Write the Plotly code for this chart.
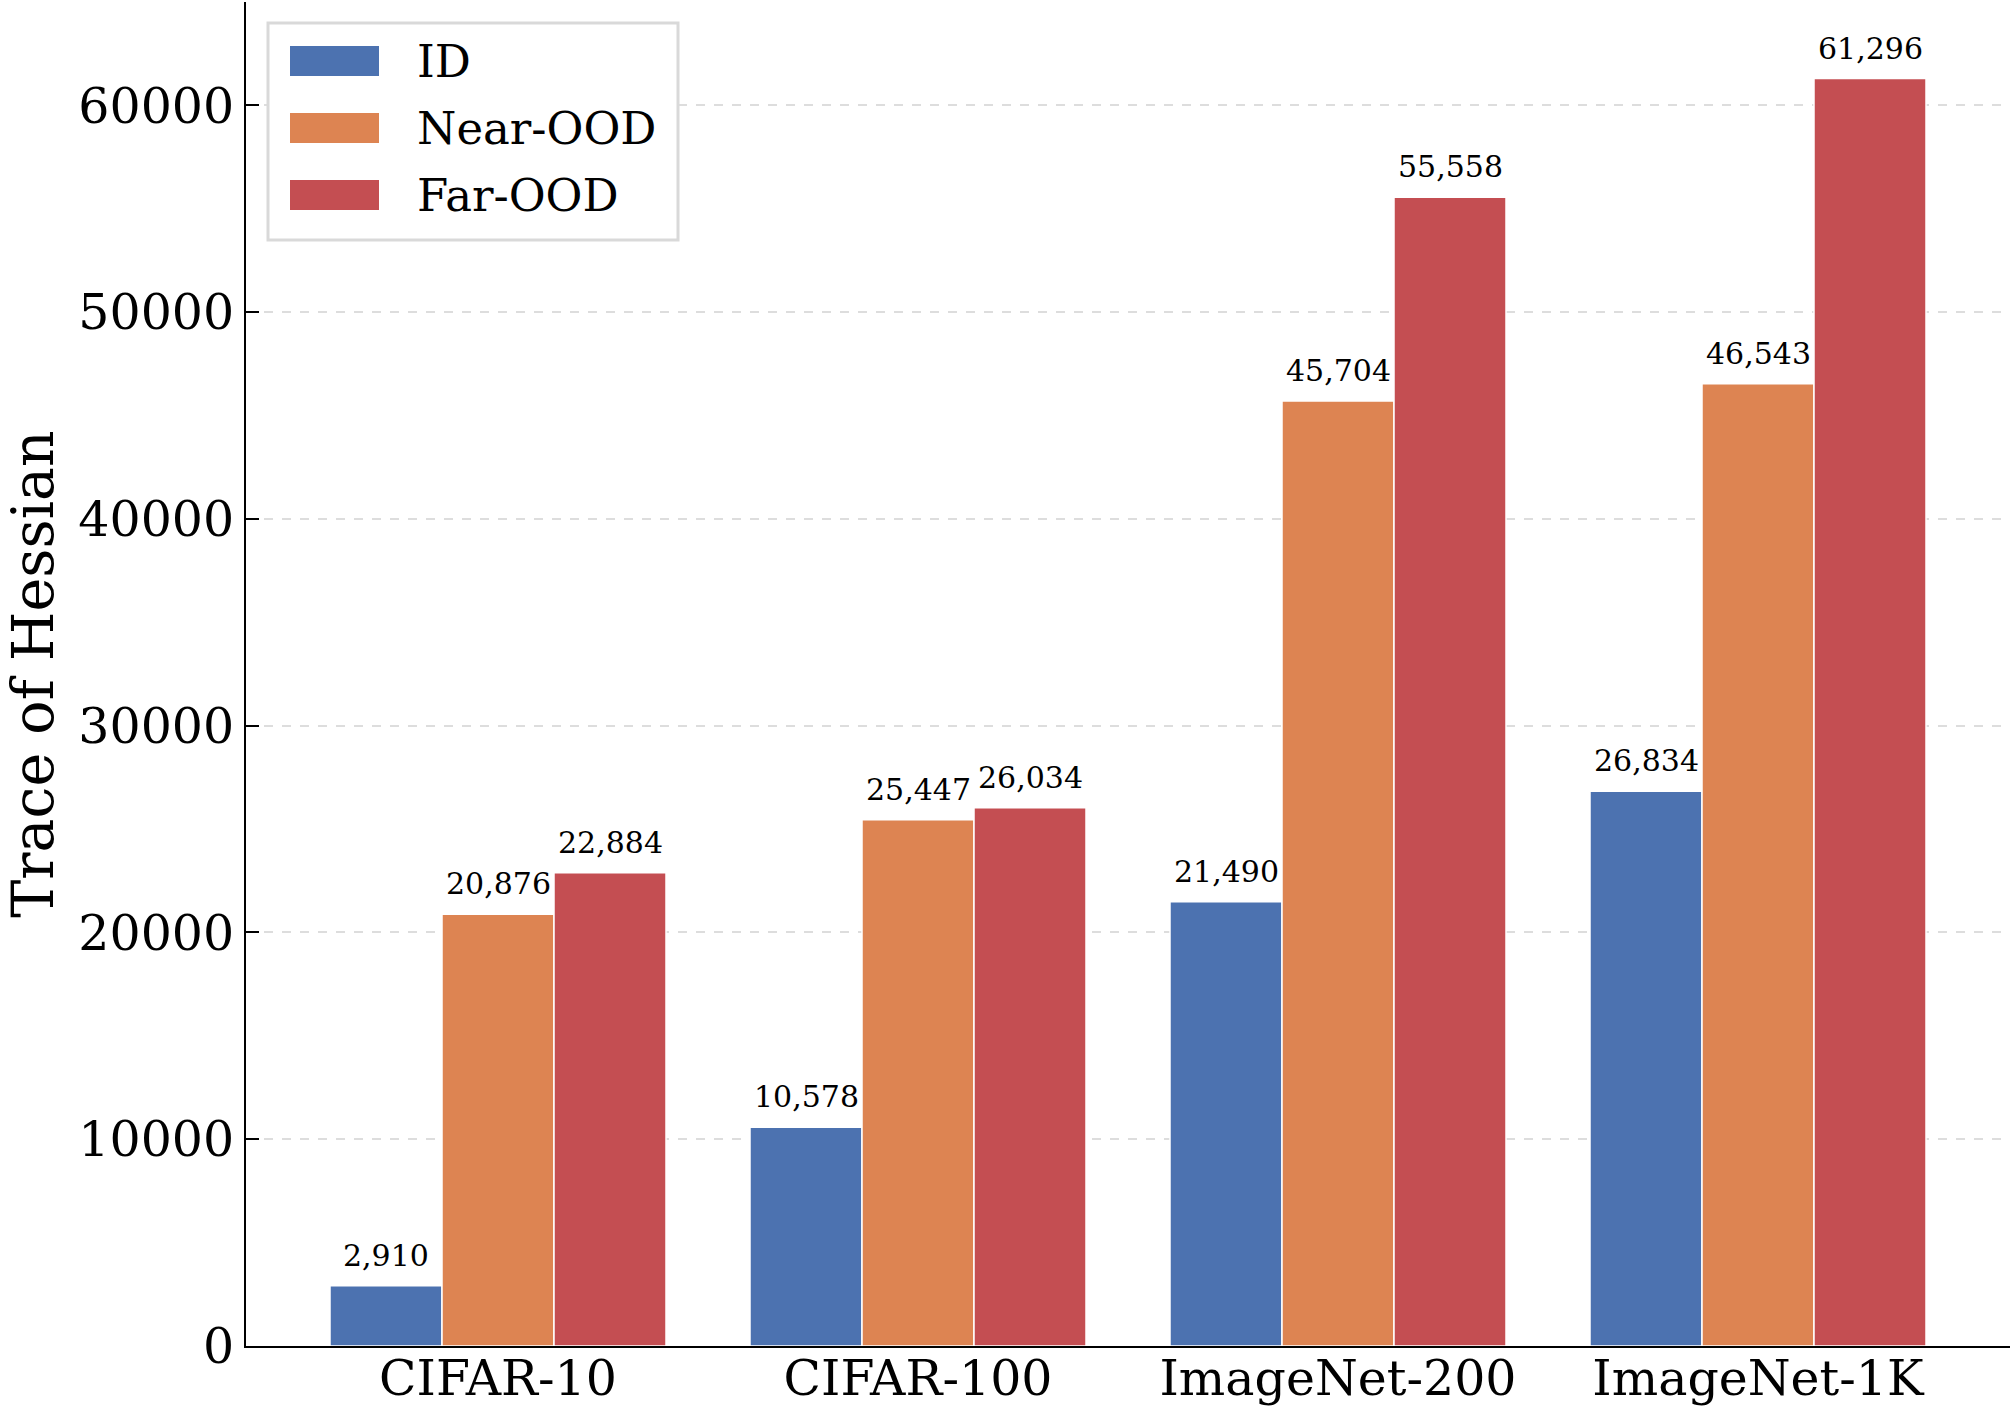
import plotly.graph_objects as go
import numpy as np

categories = ["CIFAR-10", "CIFAR-100", "ImageNet-200", "ImageNet-1K"]
series_names = ["ID", "Near-OOD", "Far-OOD"]
id_vals = [2910, 10578, 21490, 26834]
near_vals = [20876, 25447, 45704, 46543]
far_vals = [22884, 26034, 55558, 61296]
colors = ["#4C72B0", "#DD8452", "#C44E52"]
y_ticks = [0, 10000, 20000, 30000, 40000, 50000, 60000]

FONT = "DejaVu Serif"
W, H = 2014, 1410
L, R, T, B = 246, 4, 2, 64
PW, PH = W - L - R, H - T - B

def px_x(x):
    return (x - L) / PW

def px_y(y):
    return 1 - (y - T) / PH

fig = go.Figure()
bw = 0.8 / 3
idx = np.arange(len(categories))
all_vals = [id_vals, near_vals, far_vals]
annotations = []
for k, (name, vals, col) in enumerate(zip(series_names, all_vals, colors)):
    xs = idx + (k - 1) * bw
    fig.add_trace(go.Bar(
        x=xs, y=vals, width=bw, name=name,
        marker=dict(color=col, line=dict(color="white", width=1.5)),
        showlegend=False,
    ))
    for xv, v in zip(xs, vals):
        annotations.append(dict(
            x=xv, y=v, xref="x", yref="y", text=f"{v:,}", showarrow=False,
            yanchor="bottom", yshift=11,
            font=dict(family=FONT, size=30, color="black"),
        ))

# custom legend
shapes = []
leg_x0, leg_x1, leg_y0, leg_y1 = 268, 678, 23, 240
shapes.append(dict(type="rect", xref="paper", yref="paper",
                   x0=px_x(leg_x0), x1=px_x(leg_x1), y0=px_y(leg_y1), y1=px_y(leg_y0),
                   line=dict(color="#d9d9d9", width=3), fillcolor="white", layer="above"))
for i, (name, col) in enumerate(zip(series_names, colors)):
    cy = 61 + i * 67
    shapes.append(dict(type="rect", xref="paper", yref="paper",
                       x0=px_x(290), x1=px_x(379), y0=px_y(cy + 15), y1=px_y(cy - 15),
                       line=dict(width=0), fillcolor=col, layer="above"))
    annotations.append(dict(x=px_x(415), y=px_y(cy), xref="paper", yref="paper",
                            text=name, showarrow=False, xanchor="left", yanchor="middle",
                            font=dict(family=FONT, size=45, color="black")))

fig.update_layout(
    width=W, height=H,
    margin=dict(l=L, r=R, t=T, b=B, autoexpand=False),
    paper_bgcolor="white", plot_bgcolor="white",
    barmode="overlay",
    font=dict(family=FONT, color="black"),
    shapes=shapes, annotations=annotations,
    xaxis=dict(
        range=[-0.6, 3.6], tickvals=list(idx), ticktext=categories,
        showline=True, linecolor="black", linewidth=2, ticks="",
        showgrid=False, zeroline=False, ticklabelstandoff=-12,
        tickfont=dict(family=FONT, size=49, color="black"),
    ),
    yaxis=dict(
        range=[0, 65000], tickvals=y_ticks, ticktext=[str(t) for t in y_ticks],
        showline=True, linecolor="black", linewidth=2,
        ticks="inside", ticklen=13, tickwidth=2, tickcolor="black",
        showgrid=True, gridcolor="#dddddd", griddash="dash", gridwidth=1.5,
        zeroline=False,
        tickfont=dict(family=FONT, size=49, color="black"),
        title=dict(text="Trace of Hessian", standoff=22,
                   font=dict(family=FONT, size=57, color="black")),
    ),
)

fig.write_html("out.html")
